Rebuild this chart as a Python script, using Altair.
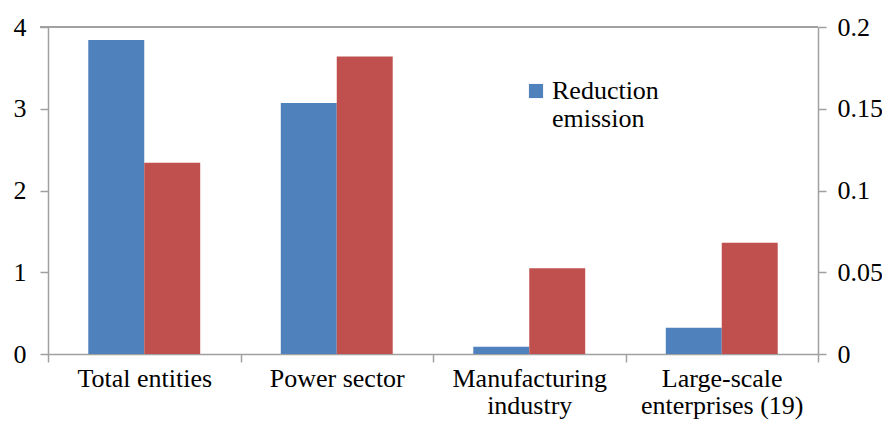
import altair as alt
import pandas as pd

# ---- data ----
categories = ["Total entities", "Power sector", "Manufacturing|industry", "Large-scale|enterprises (19)"]
reduction_emission = [3.84, 3.07, 0.09, 0.32]      # left axis (blue)
second_series = [0.117, 0.182, 0.0525, 0.068]      # right axis (red)
left_ticks = [0, 1, 2, 3, 4]
right_ticks = [0, 0.05, 0.1, 0.15, 0.2]
series_names = ["Reduction emission", "Rate"]

BLUE = "#4f81bd"
RED = "#c0504d"
GREY = "#a0a0a0"
FONT = "Times New Roman, Liberation Serif, DejaVu Serif, serif"
FS = 26

df_blue = pd.DataFrame({"cat": categories, "value": reduction_emission, "series": series_names[0]})
df_red = pd.DataFrame({"cat": categories, "value": second_series, "series": series_names[1]})

x_enc = alt.X(
    "cat:N",
    sort=categories,
    scale=alt.Scale(paddingInner=0, paddingOuter=0),
    axis=alt.Axis(
        title=None,
        labelAngle=0,
        labelExpr="split(datum.label, '|')",
        tickBand="extent",
        labelPadding=3,
        labelLineHeight=27,
        labelBaseline="top",
    ),
)
xoff = alt.XOffset(
    "series:N",
    scale=alt.Scale(domain=series_names, paddingInner=0, paddingOuter=0.72),
)

blue = alt.Chart(df_blue).mark_bar(color=BLUE).encode(
    x=x_enc,
    xOffset=xoff,
    y=alt.Y(
        "value:Q",
        scale=alt.Scale(domain=[0, 4]),
        axis=alt.Axis(orient="left", values=left_ticks, title=None, labelPadding=14),
    ),
    color=alt.Color(
        "series:N",
        scale=alt.Scale(domain=[series_names[0]], range=[BLUE]),
        legend=alt.Legend(
            title=None,
            orient="none",
            legendX=475,
            legendY=51,
            symbolType="square",
            symbolSize=200,
            symbolStrokeWidth=0,
            labelExpr="['Reduction', 'emission']",
            labelFont=FONT,
            labelFontSize=FS,
            labelColor="black",
            labelOffset=3,
            padding=0,
        ),
    ),
)

red = alt.Chart(df_red).mark_bar(color=RED).encode(
    x=x_enc,
    xOffset=xoff,
    y=alt.Y(
        "value:Q",
        scale=alt.Scale(domain=[0, 0.2]),
        axis=alt.Axis(orient="right", values=right_ticks, title=None, format="~g", labelPadding=11),
    ),
)

top_line = alt.Chart(df_blue).mark_rule(color=GREY, strokeWidth=1.5).encode(
    x=alt.value(-8), x2=alt.value(770), y=alt.value(0)
)

chart = (
    alt.layer(blue, red, top_line)
    .resolve_scale(y="independent")
    .properties(
        width=770,
        height=327,
        autosize=alt.AutoSizeParams(type="none"),
        padding={"left": 40, "top": 19, "right": 64, "bottom": 68},
    )
    .configure_view(stroke=None)
    .configure_axis(
        grid=False,
        domainColor=GREY,
        domainWidth=1.5,
        tickColor=GREY,
        tickWidth=1.5,
        tickSize=8,
        labelFont=FONT,
        labelFontSize=FS,
        labelColor="black",
    )
)

chart.save("out.html", embed_options={"renderer": "svg", "actions": False})
